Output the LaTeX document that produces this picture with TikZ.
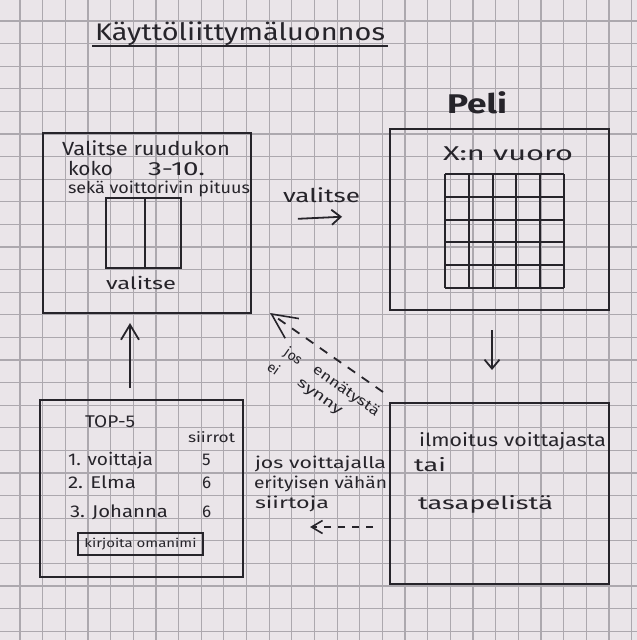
\documentclass[tikz,border=0pt]{standalone}
\usepackage{fontspec}
\usepackage{graphicx}
\setmainfont{Fira Sans}
\usetikzlibrary{arrows.meta}
\definecolor{paper}{RGB}{234,229,233}
\definecolor{gridc}{RGB}{172,168,174}
\definecolor{ink}{RGB}{38,36,42}
% squeeze or stretch a text horizontally to a given width (in pt)
\newcommand\fitw[2]{\resizebox{#1pt}{\height}{#2}}
\tikzset{
  sheet/.style={draw=ink, line width=2.1pt, inner sep=0pt, outer sep=0pt},
  hand/.style={text=ink, inner sep=0pt, outer sep=0pt, anchor=base west},
  slant/.style={text=ink, inner sep=0pt, rotate=-35, font=\fontsize{14}{16}\selectfont},
  arr/.style={draw=ink, line width=1.8pt, -{Straight Barb[length=9pt,width=15pt,line width=1.8pt]}},
  dasharr/.style={arr, dash pattern=on 9pt off 8pt},
}
\begin{document}
\begin{tikzpicture}[x=1pt,y=-1pt]
\useasboundingbox[fill=paper] (0,0) rectangle (637,640);
% squared paper
\foreach \i in {0,...,27} {
  \draw[gridc, line width=1.2pt] ({20+22.65*\i},0) -- ({20+22.65*\i},640);
  \draw[gridc, line width=1.2pt] (0,{21+22.6*\i}) -- (637,{21+22.6*\i});
}
% title
\node[hand, font=\fontsize{24}{26}\selectfont] (title) at (95,40) {\fitw{290}{Käyttöliittymäluonnos}};
\draw[ink, line width=2pt] (92,46) -- (388,46);
\node[hand, font=\fontsize{27}{30}\selectfont\bfseries] (peli) at (447,113) {\fitw{60}{Peli}};

% main boxes
\node[sheet, minimum width=208pt, minimum height=180pt] (setup) at (147,223) {};
\node[sheet, minimum width=219pt, minimum height=181pt] (game) at (499.5,219.5) {};
\node[sheet, minimum width=203pt, minimum height=177pt] (top5) at (141.5,488.5) {};
\node[sheet, minimum width=219pt, minimum height=181pt] (result) at (499.5,493.5) {};

% setup view
\node[hand, font=\fontsize{19}{21}\selectfont] (s1) at (62,155) {\fitw{168}{Valitse ruudukon}};
\node[hand, font=\fontsize{19}{21}\selectfont] (s2) at (68,175) {\fitw{45}{koko}};
\node[hand, font=\fontsize{19}{21}\selectfont] (s3) at (148,175) {\fitw{57}{3-10.}};
\node[hand, font=\fontsize{16}{18}\selectfont] (s4) at (68,193) {\fitw{182}{sekä voittorivin pituus}};
\node[sheet, line width=2pt, minimum width=75pt, minimum height=70pt] (picker) at (143.5,233) {};
\draw[ink, line width=2pt] (145,198) -- (145,268);
\node[hand, font=\fontsize{17}{19}\selectfont] (s5) at (106,289) {\fitw{70}{valitse}};

% game view
\node[hand, font=\fontsize{20}{22}\selectfont] (turn) at (443,160) {\fitw{130}{X:n vuoro}};
\foreach \k in {0,...,5} {
  \draw[ink, line width=2pt] ({445+23.8*\k},174) -- ({445+23.8*\k},288);
  \draw[ink, line width=2pt] (445,{174+22.8*\k}) -- (564,{174+22.8*\k});
}

% high score view
\node[hand, font=\fontsize{17}{19}\selectfont] (t0) at (85,427) {\fitw{50}{TOP-5}};
\node[hand, font=\fontsize{14}{16}\selectfont] (t1) at (188,442) {\fitw{47}{siirrot}};
\node[hand, font=\fontsize{17}{19}\selectfont] (r1) at (68,465) {\fitw{85}{1. voittaja}};
\node[hand, font=\fontsize{17}{19}\selectfont] (n1) at (202,465) {5};
\node[hand, font=\fontsize{17}{19}\selectfont] (r2) at (68,488) {\fitw{68}{2. Elma}};
\node[hand, font=\fontsize{17}{19}\selectfont] (n2) at (202,488) {6};
\node[hand, font=\fontsize{17}{19}\selectfont] (r3) at (70,517) {\fitw{98}{3. Johanna}};
\node[hand, font=\fontsize{17}{19}\selectfont] (n3) at (202,517) {6};
\node[sheet, line width=1.8pt, minimum width=125pt, minimum height=22pt,
      text=ink, font=\fontsize{12}{14}\selectfont] (namebtn) at (140.5,544) {\fitw{112}{kirjoita omanimi}};

% result view
\node[hand, font=\fontsize{18}{20}\selectfont] (m1) at (419,446) {\fitw{187}{ilmoitus voittajasta}};
\node[hand, font=\fontsize{18}{20}\selectfont] (m2) at (414,471) {\fitw{32}{tai}};
\node[hand, font=\fontsize{18}{20}\selectfont] (m3) at (418,509) {\fitw{135}{tasapelistä}};

% middle note
\node[hand, font=\fontsize{16}{18}\selectfont] (c1) at (255,468) {\fitw{131}{jos voittajalla}};
\node[hand, font=\fontsize{16}{18}\selectfont] (c2) at (254,488) {\fitw{133}{erityisen vähän}};
\node[hand, font=\fontsize{16}{18}\selectfont] (c3) at (255,508) {\fitw{74}{siirtoja}};

% transitions
\node[hand, font=\fontsize{19}{21}\selectfont] (v) at (283,202) {\fitw{77}{valitse}};
\draw[arr, shorten <=47pt, shorten >=48pt] ([yshift=2pt]setup.east) -- ([yshift=5pt]game.west);
\draw[arr] ([xshift=-7.5pt,yshift=-20pt]game.south) -- ([xshift=-7.5pt,yshift=33pt]result.north);
\draw[arr, -{Straight Barb[length=15pt,width=18pt,line width=1.8pt]}]
  ([xshift=-11.5pt,yshift=12pt]top5.north) -- ([xshift=-17pt,yshift=-10pt]setup.south);
\draw[dasharr, -{Straight Barb[length=25pt,width=24pt,line width=1.6pt]}]
  ([shift={(-7pt,11pt)}]result.north west) -- ([shift={(19pt,0pt)}]setup.south east);
% label of the dashed return arrow, written along it
\node[slant] (d1) at (293,357) {jos};
\node[slant] (d2) at (346,391) {\fitw{78}{ennätystä}};
\node[slant] (d3) at (274,368) {ei};
\node[slant] (d4) at (319,398) {\fitw{52}{synny}};
\draw[arr, dash pattern=on 7pt off 7pt, -{Straight Barb[length=11pt,width=13pt,line width=1.6pt]}]
  ([shift={(-17pt,-33.5pt)}]result.west) -- ([shift={(67pt,-38.5pt)}]top5.east);
\end{tikzpicture}
\end{document}
